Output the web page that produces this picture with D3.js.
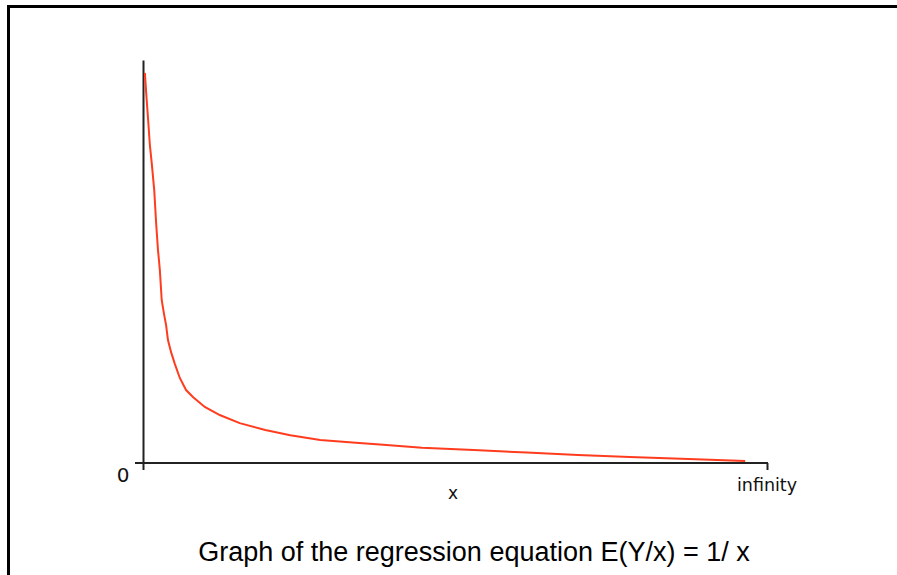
<!DOCTYPE html>
<html>
<head>
<meta charset="utf-8">
<script src="https://cdn.jsdelivr.net/npm/d3@7"></script>
<style>
  html, body { margin: 0; padding: 0; background: #fff; }
  svg { display: block; }
</style>
</head>
<body>
<svg id="chart" width="897" height="575"></svg>
<script>
// x position along the axis (0 = origin, 100 = "infinity")
const xValues = [0.3, 0.5, 0.8, 1.1, 1.4, 1.8, 2.1, 2.4, 2.7, 3.0, 3.4, 3.7, 4.0, 4.5, 5.1, 5.9, 6.9, 8.0, 9.9, 12.3, 15.5, 19.6, 23.6, 28.4, 34.1, 38.5, 44.7, 53.0, 61.5, 69.7, 78.0, 88.6, 96.5];
// expected value E(Y/x) at each x
const yValues = [96.8, 92.1, 85.6, 78.9, 74.4, 67.7, 59.6, 52.9, 47.9, 40.4, 36.7, 34.2, 30.5, 27.5, 24.6, 21.1, 18.1, 16.4, 13.9, 11.9, 9.9, 8.2, 6.9, 5.7, 5.0, 4.5, 3.8, 3.2, 2.6, 2.0, 1.5, 0.9, 0.5];
const xTickValues = [0, 100];
const xTickLabels = ["0", "infinity"];
const xAxisTitle = "x";
const chartTitle = "Graph of the regression equation E(Y/x) = 1/ x";

const svg = d3.select("#chart");

// frame (top and left edges)
svg.append("line").attr("x1", 7).attr("x2", 897).attr("y1", 6.5).attr("y2", 6.5)
  .attr("stroke", "#000").attr("stroke-width", 3);
svg.append("line").attr("x1", 8.5).attr("x2", 8.5).attr("y1", 5).attr("y2", 575)
  .attr("stroke", "#000").attr("stroke-width", 3);

const x = d3.scaleLinear().domain([0, 100]).range([143, 767]);
const y = d3.scaleLinear().domain([0, 100]).range([463, 60]);

const axisColor = "#222";

// x axis: only the end ticks, drawn downwards
const xAxis = svg.append("g")
  .attr("transform", `translate(0,${y(0)})`)
  .call(d3.axisBottom(x).tickValues(xTickValues).tickSize(7).tickSizeOuter(0).tickFormat(""));
xAxis.select(".domain").remove();
xAxis.selectAll(".tick line").attr("stroke", axisColor).attr("stroke-width", 2);
xAxis.append("line")
  .attr("x1", x(0) - 8).attr("x2", x(100) + 1)
  .attr("y1", 0).attr("y2", 0)
  .attr("stroke", axisColor).attr("stroke-width", 2);

// y axis: bare line
const yAxis = svg.append("g")
  .attr("transform", `translate(${x(0)},0)`)
  .call(d3.axisLeft(y).tickValues([]).tickSizeOuter(0));
yAxis.select(".domain").attr("stroke", axisColor).attr("stroke-width", 2);

// tick labels
const labelFont = "'DejaVu Sans', sans-serif";
svg.append("text")
  .attr("x", x(xTickValues[0]) - 20).attr("y", y(0) + 19)
  .attr("text-anchor", "middle")
  .attr("font-family", labelFont).attr("font-size", 20)
  .attr("fill", "#111")
  .text(xTickLabels[0]);
svg.append("text")
  .attr("x", x(xTickValues[1])).attr("y", y(0) + 28)
  .attr("text-anchor", "middle")
  .attr("font-family", labelFont).attr("font-size", 17.5)
  .attr("fill", "#111")
  .text(xTickLabels[1]);

// axis title
svg.append("text")
  .attr("x", 453).attr("y", y(0) + 36)
  .attr("text-anchor", "middle")
  .attr("font-family", labelFont).attr("font-size", 17)
  .attr("fill", "#111")
  .text(xAxisTitle);

// curve
const points = xValues.map((v, i) => [v, yValues[i]]);
svg.append("path")
  .datum(points)
  .attr("fill", "none")
  .attr("stroke", "#ff3c1e")
  .attr("stroke-width", 2)
  .attr("d", d3.line().x(d => x(d[0])).y(d => y(d[1])));

// caption
svg.append("text")
  .attr("x", 474).attr("y", 561)
  .attr("text-anchor", "middle")
  .attr("font-family", "'Liberation Sans', Arial, sans-serif")
  .attr("font-size", 27)
  .attr("fill", "#000")
  .text(chartTitle);
</script>
</body>
</html>
